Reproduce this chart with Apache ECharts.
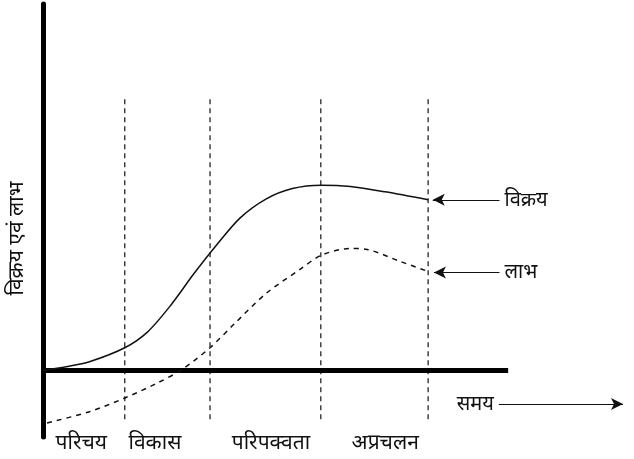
<!DOCTYPE html>
<html>
<head>
<meta charset="utf-8">
<script src="https://cdn.jsdelivr.net/npm/echarts@6/dist/echarts.min.js"></script>
<style>
  html, body { margin: 0; padding: 0; background: #fff; }
  #chart { width: 634px; height: 459px; }
</style>
</head>
<body>
<div id="chart"></div>
<script>
  // बिक्री (विक्रय) वक्र - [समय, मात्रा]
  const salesData = [
    [0, 0], [4, 1.1], [8, 2.6], [14.1, 6.8], [18, 11.5], [22, 19.5],
    [26, 29], [30, 37.8], [34, 45.8], [38.5, 51.5], [43, 54.6], [48, 55.6],
    [53, 55.2], [59, 53.6], [66.4, 51.2]
  ];
  // लाभ वक्र
  const profitData = [
    [0.7, -15.8], [8, -12.4], [14.1, -8.3], [19.7, -3.8], [24, 0.3],
    [28.8, 6.8], [33, 14], [38.6, 23.3], [44.3, 30.3], [47.9, 34.5],
    [52.9, 36.6], [55.9, 36.3], [61.6, 32.7], [66.4, 29.7]
  ];
  // चरणों की सीमाएँ
  const stageBounds = [14.1, 28.8, 47.9, 66.4];
  const stageNames = ['परिचय', 'विकास', 'परिपक्वता', 'अप्रचलन'];
  const stageCenters = [6.6, 19.3, 39.3, 59];
  const axisEnd = 80.2;

  const ink = '#111';
  const font = "'Noto Sans', 'DejaVu Sans', sans-serif";

  var chartDom = document.getElementById('chart');
  var myChart = echarts.init(chartDom);

  // धराशायी ऊर्ध्वाधर रेखाएँ
  const guideSeries = stageBounds.map((x) => ({
    type: 'line',
    data: [[x, 81.4], [x, -15.5]],
    symbol: 'none',
    silent: true,
    lineStyle: { color: ink, width: 1.2, type: [5, 4] }
  }));

  const arrowLine = (from, to, text, pos) => ({
    symbol: ['none', 'arrow'],
    symbolSize: [9, 12],
    label: {
      show: true,
      position: pos,
      formatter: text,
      color: ink,
      fontSize: 20,
      fontFamily: font,
      distance: 5
    },
    lineStyle: { color: ink, width: 1.2, type: 'solid' },
    data: [[{ coord: from }, { coord: to }]]
  });

  const option = {
    animation: false,
    backgroundColor: '#fff',
    grid: { left: 43, top: 4, width: 580, height: 433, outerBoundsMode: 'none' },
    xAxis: {
      type: 'value',
      min: 0,
      max: 100,
      splitLine: { show: false },
      axisLine: { show: false },
      axisTick: { show: false },
      axisLabel: {
        customValues: stageCenters,
        formatter: (v) => stageNames[stageCenters.indexOf(v)],
        color: ink,
        fontSize: 21,
        fontFamily: font,
        margin: -4
      }
    },
    yAxis: {
      type: 'value',
      min: -20,
      max: 110,
      name: 'विक्रय एवं लाभ',
      nameLocation: 'middle',
      nameGap: 15,
      nameTextStyle: { color: ink, fontSize: 21, fontFamily: font, padding: [0, 36, 0, 0] },
      splitLine: { show: false },
      axisTick: { show: false },
      axisLabel: { show: false },
      axisLine: { show: true, lineStyle: { color: '#000', width: 5 } }
    },
    series: [
      ...guideSeries,
      {
        name: 'अक्ष',
        type: 'line',
        data: [[0, 0], [axisEnd, 0]],
        symbol: 'none',
        silent: true,
        lineStyle: { color: '#000', width: 5 },
        markLine: arrowLine([78.6, -10.1], [100, -10.1], 'समय', 'start')
      },
      {
        name: 'विक्रय',
        type: 'line',
        data: salesData,
        smooth: 0.3,
        symbol: 'none',
        lineStyle: { color: ink, width: 1.5 },
        markLine: arrowLine([78.7, 51.2], [67.2, 51.2], 'विक्रय', 'start')
      },
      {
        name: 'लाभ',
        type: 'line',
        data: profitData,
        smooth: 0.3,
        symbol: 'none',
        lineStyle: { color: ink, width: 1.5, type: [5, 5] },
        markLine: arrowLine([78.7, 29.4], [67.4, 29.4], 'लाभ', 'start')
      }
    ]
  };

  myChart.setOption(option);
</script>
</body>
</html>
